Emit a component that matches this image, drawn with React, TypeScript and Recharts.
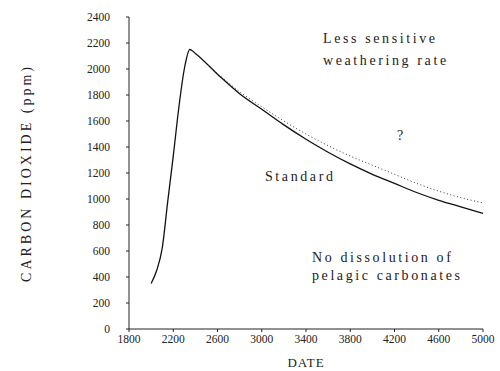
import React from 'react';
import { LineChart, Line, XAxis, YAxis, ReferenceDot } from 'recharts';

// dates (years) and CO2 in ppm
const dates = [2000, 2050, 2100, 2150, 2200, 2250, 2300, 2350, 2400, 2600, 2800, 3000, 3200, 3400, 3600, 3800, 4000, 4200, 4400, 4600, 4800, 5000];
const standard = [350, 450, 620, 980, 1330, 1700, 2000, 2150, 2120, 1960, 1810, 1690, 1570, 1460, 1360, 1270, 1190, 1120, 1050, 990, 940, 890];
const lessSensitive = [null, null, null, null, null, null, null, null, 2120, 1965, 1825, 1710, 1600, 1500, 1410, 1330, 1260, 1190, 1120, 1060, 1010, 970];

const xTicks = [1800, 2200, 2600, 3000, 3400, 3800, 4200, 4600, 5000];
const yTicks = [0, 200, 400, 600, 800, 1000, 1200, 1400, 1600, 1800, 2000, 2200, 2400];

const notes = [
  { text: 'Less sensitive', date: 3554, value: 2200 },
  { text: 'weathering rate', date: 3554, value: 2031 },
  { text: '?', date: 4223, value: 1454 },
  { text: 'Standard', date: 3029, value: 1138 },
  { text: 'No dissolution of', date: 3454, value: 515 },
  { text: 'pelagic carbonates', date: 3454, value: 377 },
];

const chartData = dates.map((d, i) => ({ date: d, standard: standard[i], less: lessSensitive[i] }));

const font = '"Liberation Serif", "DejaVu Serif", serif';
const ink = '#222';

const App = () => {
  return (
    <div style={{ position: 'absolute', left: 0, top: 0, width: 500, height: 371, background: '#fff' }}>
      <LineChart width={500} height={371} data={chartData} margin={{ top: 17, right: 17, bottom: 0, left: 0 }}>
        <XAxis
          dataKey="date"
          type="number"
          domain={[1800, 5000]}
          ticks={xTicks}
          height={42}
          stroke={ink}
          tickSize={3}
          tickMargin={3}
          tick={{ fontSize: 11.5, fontFamily: font, fill: ink }}
          label={{ value: 'DATE', position: 'insideBottom', offset: 4, style: { fontSize: 13, fontFamily: font, fill: ink, letterSpacing: 1 } }}
        />
        <XAxis xAxisId="top" dataKey="date" type="number" domain={[1800, 5000]} orientation="top" height={0} tick={false} tickLine={false} stroke={ink} />
        <YAxis
          type="number"
          domain={[0, 2400]}
          ticks={yTicks}
          width={129}
          stroke={ink}
          tickSize={3}
          tickMargin={16}
          tick={{ fontSize: 11.5, fontFamily: font, fill: ink }}
          label={{ value: 'CARBON DIOXIDE (ppm)', angle: -90, position: 'insideLeft', offset: 26, style: { textAnchor: 'middle', fontSize: 14, fontFamily: font, fill: ink, letterSpacing: 3 } }}
        />
        <YAxis yAxisId="right" type="number" domain={[0, 2400]} orientation="right" width={0} tick={false} tickLine={false} stroke={ink} />
        <Line type="monotone" dataKey="standard" stroke="#111" strokeWidth={1.3} dot={false} isAnimationActive={false} />
        <Line type="monotone" dataKey="less" stroke="#333" strokeWidth={1} strokeDasharray="1 2.5" dot={false} connectNulls={false} isAnimationActive={false} />
        {notes.map((n) => (
          <ReferenceDot
            key={n.text}
            x={n.date}
            y={n.value}
            r={0}
            stroke="none"
            label={(p: any) => (
              <text x={p.viewBox.x} y={p.viewBox.y} style={{ fontSize: 14, fontFamily: font, fill: ink, letterSpacing: 2.6 }}>
                {n.text}
              </text>
            )}
          />
        ))}
      </LineChart>
    </div>
  );
};

export default App;
